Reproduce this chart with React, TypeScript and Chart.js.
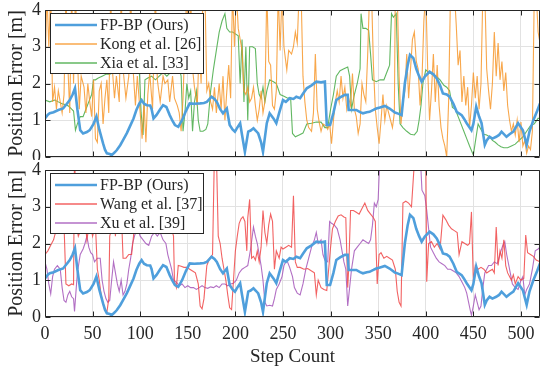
import React, { useEffect, useRef } from "react";
import { Chart, registerables } from "chart.js";

Chart.register(...registerables);

const SERIF = '"Liberation Serif", "Times New Roman", Times, serif';
const TEXT = "#262626";
const GRID = "#e2e2e2";

const xTickValues = [0, 50, 100, 150, 200, 250, 300, 350, 400, 450, 500];
const yTickValues = [0, 1, 2, 3, 4];
const stepMax = 520;
const errMax = 4;
const yAxisTitle = "Position Error [m]";
const xAxisTitle = "Step Count";
const topLabels = ["FP-BP (Ours)", "Kong et al. [26]", "Xia et al. [33]"];
const bottomLabels = ["FP-BP (Ours)", "Wang et al. [37]", "Xu et al. [39]"];

// [step, error in m]
const fpbpErr: [number, number][] = [
  [0,1.05],[3,1.15],[5,1.19],[9,1.22],[14,1.28],[19,1.32],[23,1.45],[26,1.55],[29,1.7],[31.5,1.87],[34,1.3],[37,0.73],[40,0.64],[44,0.68],[47,0.73],[51,0.9],[54,1.1],[57,0.75],[61,0.37],[63,0.2],[65,0.1],[68,0.08],[70,0.05],[73,0.12],[75.5,0.19],[79,0.32],[82,0.46],[86,0.65],[89,0.82],[93,1.05],[96,1.28],[99,1.45],[101.5,1.55],[104,1.45],[107,1.41],[110.5,1.4],[112,1.3],[114,1.05],[117,1.14],[121,1.3],[124,1.41],[127.5,1.36],[131,1.14],[134,0.98],[136.5,0.87],[140,0.82],[144,1.0],[148,1.25],[152,1.46],[157,1.45],[163,1.46],[167,1.47],[170,1.5],[175,1.64],[178,1.58],[180.5,1.5],[184,1.3],[187,1.19],[191,1.32],[194,0.87],[197,0.75],[199.5,0.69],[202,0.8],[205,0.92],[207,0.6],[210,0.14],[213.5,0.69],[216,0.72],[219,0.78],[222,0.7],[224,0.64],[227,0.4],[229,0.14],[233,0.92],[236,1.19],[240,1.05],[243,0.92],[246,1.2],[250,1.55],[253,1.5],[257,1.6],[261,1.58],[264,1.64],[268,1.6],[271,1.72],[275,1.87],[280,1.95],[285,2.05],[290,2.03],[294,2.05],[296,0.87],[299.5,0.87],[303,1.2],[306,1.55],[310,1.62],[315,1.69],[318,1.69],[319,1.28],[323,1.28],[327,1.28],[331,1.22],[334,1.19],[338,1.22],[341,1.23],[345,1.28],[348,1.32],[352,1.35],[357,1.39],[362,1.32],[367.6,1.21],[371,1.18],[374.6,1.14],[378,2.0],[381,2.5],[383.4,2.78],[387,2.69],[390,2.4],[393,2.2],[395.7,2.05],[399,2.19],[404,2.32],[408,2.25],[411.5,2.14],[415,1.95],[418,1.73],[422,1.7],[425,1.64],[429,1.45],[432.5,1.23],[437.7,1.14],[440,1.05],[443,0.92],[448,0.73],[450,0.9],[453,1.37],[456,1.1],[458.6,0.92],[462,0.33],[464,0.45],[467,0.55],[470,0.5],[474,0.55],[477,0.6],[479.6,0.69],[484.8,0.55],[488,0.62],[492,0.69],[497,0.92],[502,0.73],[506,0.33],[509,0.7],[513,1.0],[517,1.25],[520,1.46]
];

const kongErr: [number, number][] = [
  [0,2.3],[2,4.5],[4,3.0],[6,4.5],[8,1.5],[10,1.9],[12,1.3],[14,1.8],[16,1.5],[18,1.2],[20,1.7],[22,4.5],[24,2.5],[26,1.2],[28,4.5],[30,2.0],[32,4.5],[34,2.8],[36,1.3],[38,2.2],[41,1.9],[43,1.2],[45,2.0],[47,1.5],[49,1.1],[51,2.1],[53,0.5],[55,0.4],[57,1.8],[59,2.0],[61,0.9],[63,1.6],[65,2.1],[67,1.2],[69,4.5],[71,2.3],[73,1.6],[75,2.2],[78,1.5],[80,4.5],[82,2.4],[85,1.6],[88,2.2],[90,4.5],[92,2.6],[95,1.4],[97,2.2],[100,1.2],[102,0.5],[104,1.5],[106,0.4],[108,1.7],[110,2.3],[113,1.3],[116,4.5],[118,2.1],[121,1.5],[124,2.2],[126,2.0],[129,2.1],[131,1.5],[134,2.2],[136,1.6],[139,1.4],[141,1.2],[143,0.7],[145,1.6],[147,3.2],[149,4.5],[151,2.5],[153,4.5],[155,2.4],[157,1.9],[160,1.4],[162,3.1],[164,2.0],[166,4.5],[168,4.5],[170,1.8],[172,2.0],[174,1.5],[176,1.3],[178,1.9],[180,1.2],[183,2.0],[185,1.3],[187,2.2],[189,1.0],[191,1.8],[193,2.5],[195,1.6],[197,4.5],[199,3.0],[201,4.5],[203,3.5],[205,3.2],[207,2.9],[209,1.8],[211,1.7],[213,1.9],[215,1.5],[217,1.6],[219,1.9],[221,1.4],[223,1.0],[225,1.3],[227,1.8],[229,1.2],[231,1.5],[233,4.5],[235,2.6],[237,2.5],[239,1.4],[241,1.3],[243,1.8],[245,4.5],[247,2.9],[249,4.5],[251,3.0],[254,2.37],[256,2.9],[259,2.8],[261,3.0],[263,3.4],[265,3.1],[267,4.5],[269,4.5],[271,2.2],[273,1.5],[275,1.0],[277,0.8],[280,0.7],[282,1.2],[284,2.8],[286,1.3],[288,0.95],[290,0.7],[292,0.9],[295,0.85],[297,0.75],[299,0.9],[301,0.36],[303,1.0],[305,1.5],[307,1.8],[309,1.5],[311,2.2],[313,1.6],[315,1.9],[317,1.3],[319,1.6],[321,1.4],[323,2.27],[325,1.3],[327,1.1],[329,0.64],[331,0.9],[333,2.0],[335,1.7],[337,1.5],[339,2.8],[341,4.5],[343,4.5],[345,2.5],[347,1.3],[349,0.8],[351,0.36],[353,1.0],[355,1.7],[357,1.0],[359,1.4],[361,1.2],[363,1.0],[365,0.8],[367,1.2],[368,4.5],[370,4.5],[372,2.2],[374,0.9],[376,1.5],[378,1.8],[380,2.8],[382,1.6],[384,2.4],[386,3.2],[388,3.4],[390,2.6],[392,2.4],[394,1.4],[396,2.1],[398,3.7],[400,4.5],[402,2.4],[404,1.0],[406,1.8],[408,2.8],[410,1.5],[412,2.5],[414,1.4],[416,0.8],[418,0.5],[420,0.3],[422,0.0],[424,1.5],[426,4.5],[428,4.5],[430,4.5],[432,3.6],[434,2.5],[436,2.9],[438,1.5],[440,2.2],[442,1.4],[444,1.9],[446,0.8],[448,1.4],[450,2.3],[452,1.6],[454,2.2],[456,1.3],[458,2.0],[460,4.5],[462,4.5],[464,2.4],[466,1.8],[468,1.3],[470,2.0],[472,3.4],[474,2.2],[476,3.1],[478,2.1],[480,2.6],[482,1.8],[484,2.3],[486,1.4],[488,1.0],[490,0.7],[492,0.9],[494,0.6],[496,1.0],[498,0.4],[500,0.95],[502,0.3],[504,0.45],[506,0.1],[508,0.3],[510,0.2],[512,0.7],[514,4.5],[516,4.5],[518,3.4],[520,3.1]
];

const xiaErr: [number, number][] = [
  [0,1.55],[5,1.5],[10,1.55],[14,1.5],[18,1.45],[22,1.42],[25,1.38],[28,1.3],[30,1.25],[32,0.73],[34,0.9],[37,1.1],[40,1.1],[43,1.3],[46,1.5],[49,1.7],[51,2.1],[53,2.1],[56,2.15],[60,2.2],[64,2.25],[68,2.25],[72,2.3],[76,2.4],[80,2.5],[84,2.6],[88,2.8],[92,2.7],[96,2.5],[99,2.4],[101,1.2],[103,0.6],[105,2.1],[108,2.15],[112,2.2],[116,2.1],[120,2.2],[124,2.3],[128,2.2],[132,2.3],[136,2.4],[140,2.5],[143,2.2],[145,0.7],[147,1.2],[149,2.0],[151,1.6],[153,1.8],[155,0.7],[157,1.5],[159,1.8],[161,1.0],[163,0.7],[166,0.7],[169,0.75],[171,0.9],[174,1.8],[177,2.4],[180,2.9],[183,3.4],[186,3.7],[189,3.9],[191,3.5],[194,3.4],[197,3.4],[200,3.35],[203,3.3],[205,2.0],[207,3.2],[209,1.5],[211,3.0],[213,1.0],[215,3.0],[218,3.0],[221,2.95],[223,2.0],[225,1.7],[227,1.6],[229,1.9],[231,1.5],[233,1.8],[236,2.1],[240,2.05],[243,2.0],[247,1.7],[251,1.65],[255,1.6],[258,1.62],[260,0.64],[263,0.55],[267,0.6],[271,0.65],[275,0.9],[280,0.92],[285,0.95],[290,0.95],[294,0.8],[297,0.8],[300,1.3],[303,1.7],[306,2.2],[310,2.35],[314,2.4],[318,2.45],[320,2.2],[322,1.3],[325,1.7],[328,2.0],[331,2.4],[332,3.9],[334,3.5],[337,3.5],[340,3.45],[342,2.8],[344,2.1],[348,2.05],[352,2.1],[356,2.1],[359,2.3],[362,2.5],[364,3.9],[366,3.8],[369,3.9],[371,2.0],[373,0.9],[376,0.8],[380,0.7],[384,0.62],[388,0.6],[391,0.7],[393,1.0],[395,1.4],[397,2.0],[400,2.37],[403,2.3],[407,2.25],[411,2.2],[415,2.1],[419,1.95],[422,1.9],[425,1.8],[428,1.35],[431,1.3],[434,1.1],[437,0.9],[440,0.7],[443,0.5],[446,0.3],[450,0.05],[452,0.4],[455,0.9],[458,0.75],[461,0.62],[464,0.6],[467,0.55],[470,0.45],[473,0.4],[476,0.33],[479,0.28],[482,0.25],[486,0.25],[490,0.3],[494,0.35],[498,0.45],[502,0.55],[506,0.7],[510,0.85],[514,0.9],[518,1.05],[520,1.05]
];

const wangErr: [number, number][] = [
  [0,1.7],[3,1.8],[6,1.95],[9,2.1],[12,2.4],[15,3.0],[18,3.5],[20,2.5],[22,0.9],[25,0.85],[28,0.9],[30,0.88],[31,4.5],[33,2.5],[35,2.2],[38,2.4],[41,3.0],[44,2.1],[47,2.6],[50,2.2],[53,2.5],[55,1.3],[57,1.0],[59,0.6],[61,0.35],[63,0.2],[65,0.13],[67,0.5],[68,2.2],[70,2.4],[72,3.0],[74,2.2],[76,3.5],[78,2.4],[80,3.0],[82,1.6],[85,1.6],[88,1.7],[91,1.7],[93,2.2],[95,3.0],[97,2.3],[100,3.2],[103,2.6],[106,3.4],[109,2.4],[112,2.8],[115,2.5],[118,2.6],[121,2.8],[124,2.4],[127,2.6],[130,2.9],[133,2.4],[135,2.2],[136,0.98],[138,0.8],[140,1.4],[143,1.38],[146,1.35],[149,1.35],[152,1.3],[155,1.25],[158,1.2],[161,0.9],[163,0.3],[165,0.22],[167,0.5],[170,1.4],[173,1.6],[176,1.7],[178,4.5],[180,4.5],[182,2.2],[184,2.0],[186,1.6],[188,1.3],[190,1.0],[192,0.6],[194,0.25],[196,0.2],[198,1.0],[200,1.8],[202,2.2],[204,2.55],[206,2.67],[208,2.73],[210,2.6],[212,1.8],[213,2.7],[215,3.2],[217,1.6],[219,1.65],[221,1.55],[223,1.8],[225,1.5],[227,1.9],[229,2.9],[231,2.3],[233,2.0],[235,2.5],[237,2.8],[239,2.6],[241,1.3],[243,1.8],[246,1.6],[248,1.9],[250,1.85],[253,1.9],[256,1.95],[259,1.9],[261,3.3],[263,1.5],[265,1.35],[268,1.35],[272,1.3],[276,1.32],[280,1.25],[283,1.2],[285,0.6],[287,1.0],[290,0.8],[293,0.75],[296,0.72],[298,1.3],[300,1.9],[302,2.4],[305,2.6],[308,2.75],[311,2.78],[314,2.72],[316,2.7],[318,0.8],[319,1.3],[321,2.9],[324,2.9],[327,2.85],[330,2.8],[333,2.95],[336,3.1],[339,2.9],[342,2.8],[345,2.7],[347,2.6],[349,0.9],[351,1.7],[353,1.75],[356,1.6],[359,1.65],[362,1.6],[365,1.55],[368,1.3],[370,0.7],[372,0.4],[374,0.3],[376,3.1],[379,3.15],[382,3.1],[385,3.0],[388,4.2],[391,4.5],[394,4.5],[397,4.5],[400,4.5],[401,0.96],[403,2.0],[406,2.05],[409,1.9],[412,2.0],[415,1.85],[418,2.77],[421,2.65],[424,2.5],[427,2.4],[430,2.35],[433,2.3],[435,1.7],[438,2.05],[441,2.0],[444,1.95],[446,2.0],[448,2.86],[450,0.96],[452,1.4],[455,1.3],[458,1.35],[461,1.3],[464,1.2],[467,1.25],[470,1.3],[472,1.2],[474,2.45],[476,1.4],[478,1.8],[480,1.6],[482,2.1],[484,1.4],[486,1.2],[488,1.1],[490,1.0],[492,1.15],[494,0.9],[497,1.1],[500,1.0],[503,1.05],[505,2.23],[507,1.75],[510,1.7],[513,1.65],[516,1.55],[520,1.5]
];

const xuErr: [number, number][] = [
  [0,1.5],[2,1.3],[4,0.9],[6,0.63],[8,1.1],[10,1.3],[13,1.4],[16,1.3],[18,0.8],[20,0.45],[22,0.4],[24,0.6],[26,0.7],[28,0.55],[30,0.5],[31,0.15],[32,0.5],[34,1.2],[37,1.7],[40,1.85],[42,2.0],[44,2.2],[46,1.9],[48,1.75],[50,1.7],[52,1.5],[55,1.6],[58,1.6],[60,1.0],[62,0.7],[64,0.5],[66,0.4],[68,0.45],[70,1.0],[72,1.5],[74,1.2],[76,0.9],[78,0.7],[80,1.0],[82,0.6],[84,0.7],[86,0.9],[88,1.3],[90,1.6],[92,2.0],[94,2.2],[97,2.45],[100,2.2],[103,2.1],[106,2.0],[109,1.95],[112,2.2],[115,2.3],[118,2.2],[121,2.3],[124,2.1],[127,2.0],[129,1.7],[131,1.5],[133,1.3],[135,1.0],[138,0.95],[141,0.85],[144,0.9],[147,0.8],[150,0.85],[153,0.8],[156,0.8],[159,0.75],[162,0.8],[165,0.85],[168,0.8],[171,0.78],[174,0.82],[177,0.8],[180,0.85],[183,0.8],[186,0.9],[189,0.9],[192,0.85],[195,0.9],[198,0.92],[201,1.0],[204,1.2],[207,1.3],[210,1.35],[213,1.4],[216,1.85],[219,2.45],[221,2.2],[223,2.0],[225,1.7],[227,1.4],[229,1.0],[231,0.4],[233,0.3],[236,0.32],[239,0.3],[241,0.5],[243,0.75],[246,0.9],[249,1.1],[251,1.4],[254,1.55],[257,1.35],[260,1.1],[262,0.8],[265,0.65],[268,0.6],[271,0.9],[274,1.3],[277,1.6],[280,1.9],[283,2.1],[285,2.3],[287,2.0],[290,2.1],[292,1.7],[294,1.55],[297,1.5],[299,2.6],[301,2.55],[304,2.5],[307,2.4],[310,2.1],[312,1.8],[314,1.5],[316,1.3],[318,0.3],[320,0.8],[322,1.3],[325,1.8],[328,1.9],[331,2.0],[334,2.1],[337,2.05],[340,2.0],[342,2.1],[344,2.5],[346,3.1],[348,3.0],[350,3.2],[352,4.5],[360,4.5],[370,4.5],[380,4.5],[390,4.5],[394,4.5],[396,3.45],[399,3.3],[401,2.9],[403,2.4],[405,1.9],[408,1.75],[411,1.6],[414,1.5],[417,1.45],[420,1.4],[423,1.3],[426,1.3],[429,1.25],[432,1.2],[435,1.1],[438,0.95],[441,0.8],[443,0.65],[445,0.4],[447,0.15],[448,0.05],[450,0.3],[452,0.6],[454,0.4],[456,0.2],[458,0.3],[460,0.8],[462,1.2],[464,1.3],[466,1.4],[469,1.4],[472,1.5],[475,1.45],[477,1.6],[479,1.8],[481,1.95],[483,2.05],[485,1.7],[488,1.3],[491,0.9],[494,0.8],[497,0.75],[500,1.0],[502,1.1],[504,0.6],[506,0.75],[509,0.9],[512,1.3],[515,1.8],[518,1.85],[520,1.9]
];

const colorOurs = "#4f9fdc";
const colorKong = "rgba(247,152,44,0.85)";
const colorXia = "rgba(80,175,80,0.9)";
const colorWang = "rgba(240,70,70,0.85)";
const colorXu = "rgba(170,95,190,0.9)";

const frameTicks = {
  id: "frameTicks",
  afterDatasetsDraw(chart: any) {
    const { ctx, chartArea: a, scales } = chart;
    const L = Math.round(a.left) + 0.5;
    const R = Math.round(a.right) - 0.5;
    const T = Math.round(a.top) + 0.5;
    const B = Math.round(a.bottom) - 0.5;
    ctx.save();
    ctx.strokeStyle = TEXT;
    ctx.lineWidth = 1;
    ctx.beginPath();
    ctx.rect(L, T, R - L, B - T);
    for (const v of xTickValues) {
      const px = Math.round(scales.x.getPixelForValue(v)) + 0.5;
      ctx.moveTo(px, B); ctx.lineTo(px, B - 5);
      ctx.moveTo(px, T); ctx.lineTo(px, T + 5);
    }
    for (const v of yTickValues) {
      const py = Math.round(scales.y.getPixelForValue(v)) + 0.5;
      ctx.moveTo(L, py); ctx.lineTo(L + 5, py);
      ctx.moveTo(R, py); ctx.lineTo(R - 5, py);
    }
    ctx.stroke();
    ctx.restore();
  },
};

const boxedLegend = {
  id: "boxedLegend",
  afterDraw(chart: any) {
    const { ctx, chartArea: a } = chart;
    const x0 = Math.round(a.left) + 5;
    const y0 = Math.round(a.top) + 3;
    const w = 153;
    const h = 60;
    ctx.save();
    ctx.fillStyle = "#ffffff";
    ctx.fillRect(x0, y0, w, h);
    ctx.strokeStyle = TEXT;
    ctx.lineWidth = 1;
    ctx.strokeRect(x0 + 0.5, y0 + 0.5, w, h);
    chart.data.datasets.forEach((ds: any, i: number) => {
      const cy = y0 + 12 + i * 19;
      ctx.strokeStyle = ds.borderColor;
      ctx.lineWidth = i === 0 ? 2.6 : 1.4;
      ctx.beginPath();
      ctx.moveTo(x0 + 5, cy);
      ctx.lineTo(x0 + 47, cy);
      ctx.stroke();
      ctx.fillStyle = TEXT;
      ctx.font = "16px " + SERIF;
      ctx.textBaseline = "middle";
      ctx.textAlign = "left";
      ctx.fillText(ds.label, x0 + 50, cy + 1);
    });
    ctx.restore();
  },
};

function series(label: string, pts: [number, number][], color: string, width: number) {
  return {
    label,
    data: pts.map(([x, y]) => ({ x, y })),
    borderColor: color,
    borderWidth: width,
    pointRadius: 0,
    tension: 0,
    fill: false,
  };
}

function makeConfig(datasets: any[], showX: boolean, padTop: number, padBottom: number, xHeight: number): any {
  return {
    type: "line",
    data: { datasets },
    options: {
      animation: false,
      responsive: false,
      devicePixelRatio: 1,
      events: [],
      layout: { autoPadding: false, padding: { top: padTop, right: 1, bottom: padBottom, left: 0 } },
      plugins: { legend: { display: false }, tooltip: { enabled: false } },
      scales: {
        x: {
          type: "linear",
          min: 0,
          max: stepMax,
          afterBuildTicks: (s: any) => { s.ticks = xTickValues.map((v) => ({ value: v })); },
          afterFit: (s: any) => { s.height = xHeight; s.paddingLeft = 0; s.paddingRight = 0; },
          ticks: { display: showX, autoSkip: false, maxRotation: 0, padding: 6, color: TEXT, font: { family: SERIF, size: 18 } },
          grid: { color: GRID, drawTicks: false, lineWidth: 1 },
          border: { display: false },
          title: { display: showX, text: xAxisTitle, color: TEXT, font: { family: SERIF, size: 19 }, padding: { top: 0, bottom: 1 } },
        },
        y: {
          type: "linear",
          min: 0,
          max: errMax,
          afterBuildTicks: (s: any) => { s.ticks = yTickValues.map((v) => ({ value: v })); },
          afterFit: (s: any) => { s.width = 45; s.paddingTop = 0; s.paddingBottom = 0; },
          ticks: { padding: 4, color: TEXT, font: { family: SERIF, size: 18 } },
          grid: { color: GRID, drawTicks: false, lineWidth: 1 },
          border: { display: false },
          title: { display: true, text: yAxisTitle, color: TEXT, font: { family: SERIF, size: 20 }, padding: { top: 5, bottom: 0 } },
        },
      },
    },
    plugins: [frameTicks, boxedLegend],
  };
}

export default function App() {
  const topRef = useRef<HTMLCanvasElement | null>(null);
  const botRef = useRef<HTMLCanvasElement | null>(null);

  useEffect(() => {
    const top = new Chart(
      topRef.current as HTMLCanvasElement,
      makeConfig(
        [
          series(topLabels[0], fpbpErr, colorOurs, 2.6),
          series(topLabels[1], kongErr, colorKong, 1.1),
          series(topLabels[2], xiaErr, colorXia, 1.1),
        ],
        false,
        10,
        3,
        0
      )
    );
    const bot = new Chart(
      botRef.current as HTMLCanvasElement,
      makeConfig(
        [
          series(bottomLabels[0], fpbpErr, colorOurs, 2.6),
          series(bottomLabels[1], wangErr, colorWang, 1.1),
          series(bottomLabels[2], xuErr, colorXu, 1.1),
        ],
        true,
        10,
        0,
        52
      )
    );
    return () => {
      top.destroy();
      bot.destroy();
    };
  }, []);

  return (
    <div style={{ position: "absolute", left: 0, top: 0, width: 541, height: 369, background: "#ffffff" }}>
      <canvas ref={topRef} width={541} height={160} style={{ position: "absolute", left: 0, top: 0, width: 541, height: 160 }} />
      <canvas ref={botRef} width={541} height={209} style={{ position: "absolute", left: 0, top: 160, width: 541, height: 209 }} />
    </div>
  );
}
